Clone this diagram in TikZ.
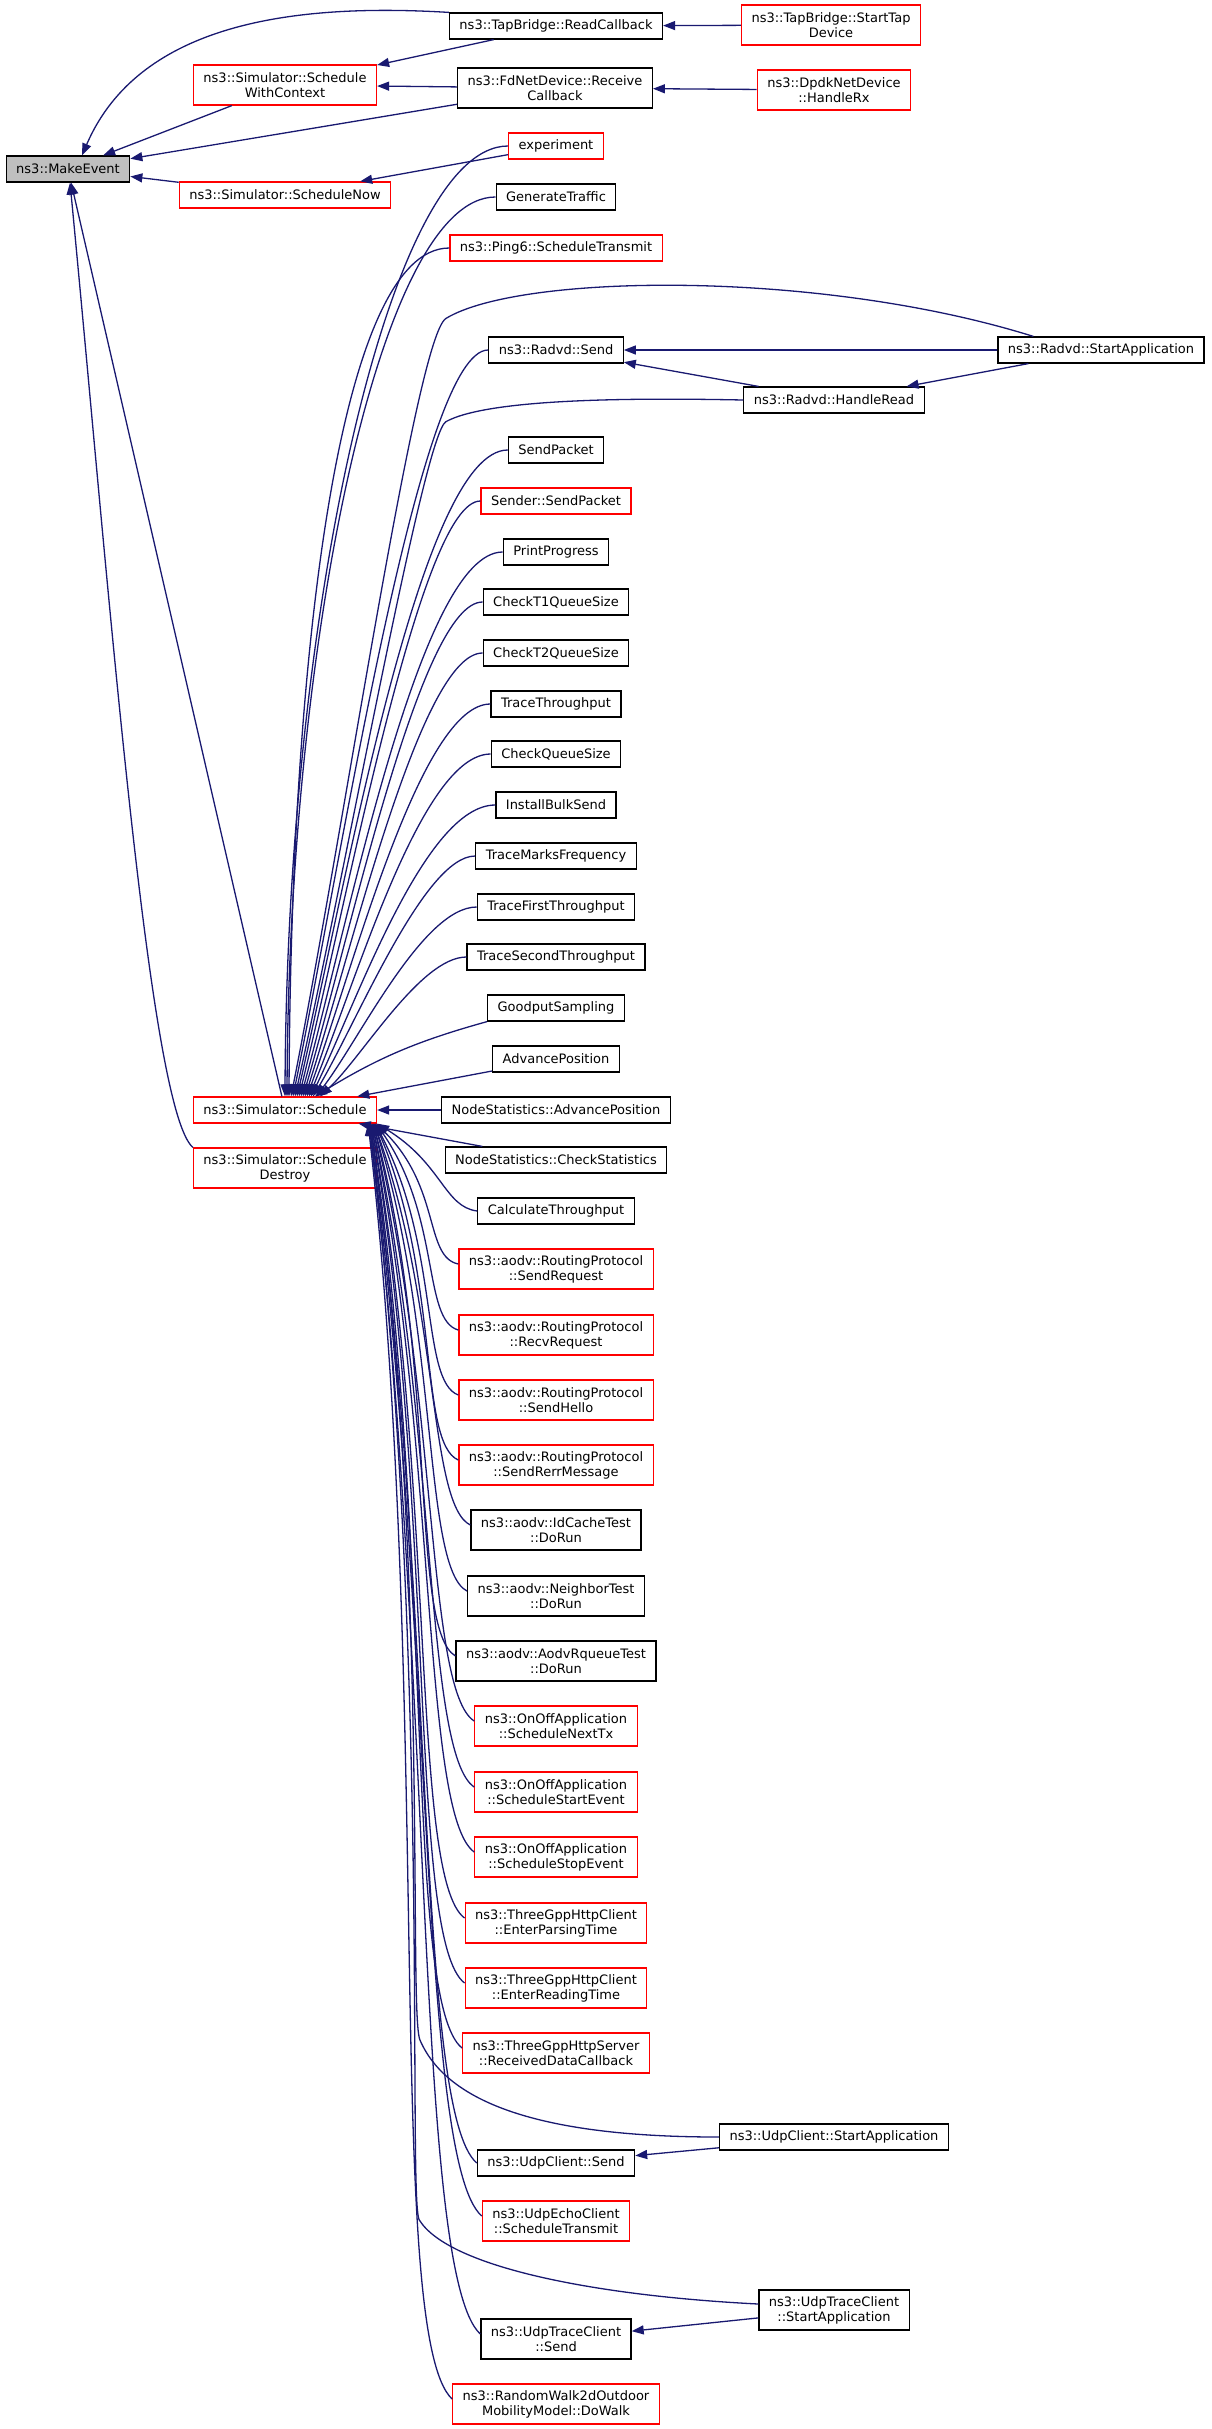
\documentclass[tikz,border=0pt]{standalone}
\usepackage{fontspec}
\setmainfont{DejaVu Sans}
\usepackage{xcolor}
\usetikzlibrary{arrows.meta}

\definecolor{edgeblue}{HTML}{191970}
\definecolor{grey75}{HTML}{BFBFBF}

\tikzset{
  func/.style={draw=black, line width=1.2pt, fill=white, minimum height=26pt,
    inner xsep=10pt, inner ysep=3pt, align=center,
    font=\fontsize{13}{15}\selectfont},
  nodoc/.style={func, draw=red},
  root/.style={func, fill=grey75},
  two/.style={minimum height=40pt},
  call/.style={draw=edgeblue, line width=1.3pt},
  % caller above the callee: leave to the left, come in from above
  upcall/.style n args={3}{to path={.. controls +(-#1,0) and +(#2,#3) .. (\tikztotarget)}},
  % caller below the callee: leave to the left, come in from below
  downcall/.style n args={3}{to path={.. controls +(-#1,#2) and +(65,-#3) .. (\tikztotarget)}},
}

\begin{document}
\begin{tikzpicture}[x=1pt, y=1pt, >={Triangle[length=12pt,width=9pt]}, ->, every edge/.style={call}]
  \useasboundingbox (0,0) rectangle (1211,-2429);

  \node[root]      (me)    at (68,-169)   {ns3::MakeEvent};
  \node[nodoc,two] (swc)   at (285,-85)   {ns3::Simulator::Schedule\\WithContext};
  \node[nodoc]     (snow)  at (285,-195)  {ns3::Simulator::ScheduleNow};
  \node[nodoc]     (sch)   at (285,-1110) {ns3::Simulator::Schedule};
  \node[nodoc,two] (sdes)  at (285,-1168) {ns3::Simulator::Schedule\\Destroy};

  \node[func]      (rcb)   at (556,-26)   {ns3::TapBridge::ReadCallback};
  \node[func,two]  (fdn)   at (555,-88)   {ns3::FdNetDevice::Receive\\Callback};
  \node[nodoc]     (exp)   at (556,-146)  {experiment};
  \node[func]      (gen)   at (556,-197)  {GenerateTraffic};
  \node[nodoc]     (ping)  at (556,-248)  {ns3::Ping6::ScheduleTransmit};
  \node[func]      (rsend) at (556,-350)  {ns3::Radvd::Send};
  \node[func]      (spkt)  at (556,-450)  {SendPacket};
  \node[nodoc]     (sspkt) at (556,-501)  {Sender::SendPacket};
  \node[func]      (pprog) at (556,-552)  {PrintProgress};
  \node[func]      (ct1)   at (556,-602)  {CheckT1QueueSize};
  \node[func]      (ct2)   at (556,-653)  {CheckT2QueueSize};
  \node[func]      (tthr)  at (556,-704)  {TraceThroughput};
  \node[func]      (cqs)   at (556,-754)  {CheckQueueSize};
  \node[func]      (ibs)   at (556,-805)  {InstallBulkSend};
  \node[func]      (tmf)   at (556,-856)  {TraceMarksFrequency};
  \node[func]      (tft)   at (556,-907)  {TraceFirstThroughput};
  \node[func]      (tst)   at (556,-957)  {TraceSecondThroughput};
  \node[func]      (gps)   at (556,-1008) {GoodputSampling};
  \node[func]      (adv)   at (556,-1059) {AdvancePosition};
  \node[func]      (nsap)  at (556,-1110) {NodeStatistics::AdvancePosition};
  \node[func]      (nscs)  at (556,-1160) {NodeStatistics::CheckStatistics};
  \node[func]      (cthr)  at (556,-1211) {CalculateThroughput};
  \node[nodoc,two] (sreq)  at (556,-1269) {ns3::aodv::RoutingProtocol\\::SendRequest};
  \node[nodoc,two] (rreq)  at (556,-1335) {ns3::aodv::RoutingProtocol\\::RecvRequest};
  \node[nodoc,two] (shel)  at (556,-1400) {ns3::aodv::RoutingProtocol\\::SendHello};
  \node[nodoc,two] (srerr) at (556,-1465) {ns3::aodv::RoutingProtocol\\::SendRerrMessage};
  \node[func,two]  (idc)   at (556,-1530) {ns3::aodv::IdCacheTest\\::DoRun};
  \node[func,two]  (nbt)   at (556,-1596) {ns3::aodv::NeighborTest\\::DoRun};
  \node[func,two]  (aqt)   at (556,-1661) {ns3::aodv::AodvRqueueTest\\::DoRun};
  \node[nodoc,two] (snt)   at (556,-1726) {ns3::OnOffApplication\\::ScheduleNextTx};
  \node[nodoc,two] (sse)   at (556,-1792) {ns3::OnOffApplication\\::ScheduleStartEvent};
  \node[nodoc,two] (sst)   at (556,-1857) {ns3::OnOffApplication\\::ScheduleStopEvent};
  \node[nodoc,two] (ept)   at (556,-1923) {ns3::ThreeGppHttpClient\\::EnterParsingTime};
  \node[nodoc,two] (ert)   at (556,-1988) {ns3::ThreeGppHttpClient\\::EnterReadingTime};
  \node[nodoc,two] (rdc)   at (556,-2053) {ns3::ThreeGppHttpServer\\::ReceivedDataCallback};
  \node[func]      (ucs)   at (556,-2163) {ns3::UdpClient::Send};
  \node[nodoc,two] (uecho) at (556,-2221) {ns3::UdpEchoClient\\::ScheduleTransmit};
  \node[func,two]  (utcs)  at (556,-2339) {ns3::UdpTraceClient\\::Send};
  \node[nodoc,two] (rw)    at (556,-2404) {ns3::RandomWalk2dOutdoor\\MobilityModel::DoWalk};

  \node[nodoc,two] (stap)  at (831,-25)   {ns3::TapBridge::StartTap\\Device};
  \node[nodoc,two] (dpdk)  at (834,-90)   {ns3::DpdkNetDevice\\::HandleRx};
  \node[func]      (rhr)   at (834,-400)  {ns3::Radvd::HandleRead};
  \node[func]      (usa)   at (834,-2137) {ns3::UdpClient::StartApplication};
  \node[func,two]  (utsa)  at (834,-2310) {ns3::UdpTraceClient\\::StartApplication};
  \node[func]      (rsa)   at (1101,-350) {ns3::Radvd::StartApplication};

  \path (stap) edge (rcb)
        (dpdk) edge (fdn)
        (rcb)  edge (swc)
        (fdn)  edge (swc)
               edge (me)
        (swc)  edge (me)
        (snow) edge (me)
        (exp)  edge (snow)
        (sch)  edge (me)
        (rsa)  edge (rsend)
               edge (rhr)
        (rhr)  edge (rsend)
        (usa)  edge (ucs)
        (utsa) edge (utcs)
        (adv)  edge (sch)
        (nsap) edge (sch)
        (nscs) edge (sch)
        (gps.south west) edge[bend right=8] ([xshift=30pt]sch.north);

  \draw[call] (rcb.north west) .. controls +(-149,9) and +(58,135) .. ([xshift=14pt]me.north);
  \draw[call] (sdes.north west) .. controls +(-44,38) and +(40,-417) .. ([xshift=2pt]me.south);

  % callers above ns3::Simulator::Schedule
  \path (exp.west)   edge[upcall={121}{2}{476}] (sch.north)
        (gen.west)   edge[upcall={117}{2}{450}] ([xshift=2pt]sch.north)
        (ping.west)  edge[upcall={113}{2}{425}] ([xshift=4pt]sch.north)
        (rsend.west) edge[upcall={68}{51}{251}] ([xshift=8pt]sch.north)
        (spkt.west)  edge[upcall={87}{50}{216}] ([xshift=12pt]sch.north)
        (sspkt.west) edge[upcall={60}{49}{198}] ([xshift=14pt]sch.north)
        (pprog.west) edge[upcall={82}{49}{180}] ([xshift=16pt]sch.north)
        (ct1.west)   edge[upcall={62}{48}{163}] ([xshift=18pt]sch.north)
        (ct2.west)   edge[upcall={62}{47}{145}] ([xshift=20pt]sch.north)
        (tthr.west)  edge[upcall={70}{46}{127}] ([xshift=22pt]sch.north)
        (cqs.west)   edge[upcall={70}{46}{110}] ([xshift=24pt]sch.north)
        (ibs.west)   edge[upcall={71}{45}{92}]  ([xshift=26pt]sch.north)
        (tmf.west)   edge[upcall={51}{44}{74}]  ([xshift=28pt]sch.north)
        (tft.west)   edge[upcall={54}{43}{56}]  ([xshift=31pt]sch.north)
        (tst.west)   edge[upcall={46}{42}{39}]  ([xshift=35pt]sch.north);

  \draw[call] ([xshift=36pt]rsa.north west) .. controls +(-214,67) and +(74,45) .. ([shift={(-110,18)}]rsend.north)
    .. controls +(-30,-18) and +(54,272) .. ([xshift=6pt]sch.north);
  \draw[call] (rhr.west) .. controls +(-100,2) and +(44,24) .. ([shift={(-110,-58)}]rsend.south)
    .. controls +(-22,-12) and +(53,237) .. ([xshift=10pt]sch.north);

  % callers below ns3::Simulator::Schedule
  \path (cthr.west)              edge[downcall={33}{4}{40}]   (sch.south east)
        ([yshift=5pt]sreq.west)  edge[downcall={34}{7}{64}]   ([xshift=-1pt]sch.south east)
        ([yshift=5pt]rreq.west)  edge[downcall={36}{10}{94}]  ([xshift=-1pt]sch.south east)
        ([yshift=5pt]shel.west)  edge[downcall={38}{14}{123}] ([xshift=-2pt]sch.south east)
        ([yshift=5pt]srerr.west) edge[downcall={40}{17}{152}] ([xshift=-2pt]sch.south east)
        ([yshift=5pt]idc.west)   edge[downcall={42}{20}{181}] ([xshift=-3pt]sch.south east)
        ([yshift=5pt]nbt.west)   edge[downcall={44}{23}{211}] ([xshift=-3pt]sch.south east)
        ([yshift=5pt]aqt.west)   edge[downcall={46}{27}{240}] ([xshift=-4pt]sch.south east)
        ([yshift=5pt]snt.west)   edge[downcall={48}{30}{270}] ([xshift=-4pt]sch.south east)
        ([yshift=5pt]sse.west)   edge[downcall={50}{33}{299}] ([xshift=-5pt]sch.south east)
        ([yshift=5pt]sst.west)   edge[downcall={52}{37}{329}] ([xshift=-5pt]sch.south east)
        ([yshift=5pt]ept.west)   edge[downcall={54}{40}{358}] ([xshift=-6pt]sch.south east)
        ([yshift=5pt]ert.west)   edge[downcall={56}{43}{387}] ([xshift=-6pt]sch.south east)
        ([yshift=5pt]rdc.west)   edge[downcall={58}{46}{417}] ([xshift=-7pt]sch.south east)
        (ucs.west)               edge[downcall={61}{52}{468}] ([xshift=-7pt]sch.south east)
        ([yshift=5pt]uecho.west) edge[downcall={63}{55}{492}] ([xshift=-8pt]sch.south east)
        ([yshift=5pt]utcs.west)  edge[downcall={66}{61}{545}] ([xshift=-8pt]sch.south east)
        ([yshift=5pt]rw.west)    edge[downcall={68}{64}{575}] ([xshift=-9pt]sch.south east);

  \draw[call] (usa.west) .. controls +(-159,0) and +(30,-70) .. ([shift={(-299,97)}]usa.west)
    .. controls +(-12,28) and +(60,-430) .. ([xshift=-7pt]sch.south east);
  \draw[call] ([yshift=6pt]utsa.west) .. controls +(-159,8) and +(30,-48) .. ([shift={(-339,90)}]utsa.west)
    .. controls +(-12,20) and +(62,-520) .. ([xshift=-8pt]sch.south east);
\end{tikzpicture}
\end{document}
